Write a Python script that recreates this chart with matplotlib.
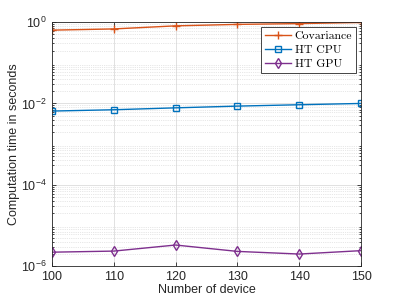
import numpy as np
import matplotlib.pyplot as plt
from matplotlib.ticker import LogLocator, NullFormatter

devices = [100, 110, 120, 130, 140, 150]
covariance = [0.635, 0.68, 0.81, 0.88, 0.92, 0.98]
ht_cpu = [0.0065, 0.0070, 0.0078, 0.0086, 0.0093, 0.0100]
ht_gpu = [2.2e-6, 2.34e-6, 3.3e-6, 2.3e-6, 1.98e-6, 2.4e-6]

plt.rcParams['font.family'] = ['Liberation Sans', 'DejaVu Sans']
plt.rcParams['mathtext.fontset'] = 'custom'
plt.rcParams['mathtext.rm'] = 'Liberation Sans'

fig = plt.figure(figsize=(3.99, 2.99), dpi=100)
ax = fig.add_axes([0.130, 0.110, 0.775, 0.816])

ax.plot(devices, covariance, color='#D95319', marker='+', markersize=6, lw=1, label='Covariance')
ax.plot(devices, ht_cpu, color='#0072BD', marker='s', markersize=4.5, mfc='none', lw=1, label='HT CPU')
ax.plot(devices, ht_gpu, color='#7E2F8E', marker='d', markersize=5, mfc='none', lw=1, label='HT GPU')

ax.set_yscale('log')
ax.set_ylim(1e-6, 1)
ax.set_xlim(100, 150)
ax.set_xticks(devices)
ax.set_yticks([1e-6, 1e-4, 1e-2, 1e0])
ax.yaxis.set_minor_locator(LogLocator(base=10, subs=np.arange(2, 10), numticks=20))
ax.yaxis.set_minor_formatter(NullFormatter())

ax.grid(True, which='major', color='#dcdcdc', lw=0.6)
ax.grid(True, which='minor', axis='y', color='#d0d0d0', lw=0.5, ls=':')
ax.set_axisbelow(True)

for s in ax.spines.values():
    s.set_color('#262626')
    s.set_linewidth(0.6)
ax.tick_params(which='both', direction='in', top=True, right=True, colors='#262626', labelsize=9, width=0.6)
ax.tick_params(which='major', length=3)
ax.tick_params(which='minor', length=1.5)

ax.set_xlabel('Number of device', fontsize=9, color='#262626', labelpad=1)
ax.set_ylabel('Computation time in seconds', fontsize=9, color='#262626', labelpad=1)

leg = ax.legend(loc='upper right', prop={'family': 'cmr10', 'size': 8.5}, fancybox=False,
                framealpha=1, edgecolor='#262626', borderpad=0.35, labelspacing=0.3,
                handlelength=2.2, handletextpad=0.3, borderaxespad=0.4)
leg.get_frame().set_linewidth(0.6)

fig.savefig('out.png', dpi=100)
